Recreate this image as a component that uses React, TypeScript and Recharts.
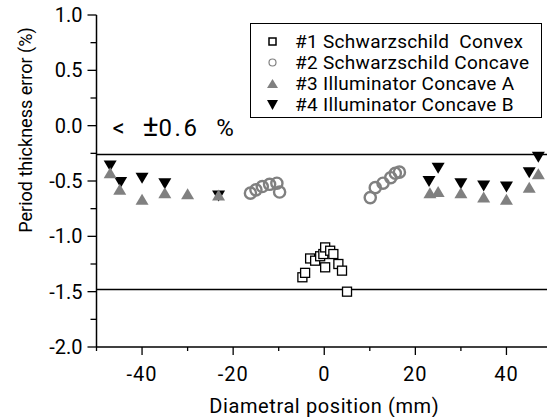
import React from "react";
import { ScatterChart, Scatter, XAxis, YAxis, ReferenceLine, Legend, Label } from "recharts";

// measured points: [diametral position (mm), period thickness error (%)]
const convexPoints = [
  [-4.8, -1.37], [-4.2, -1.33], [-3.1, -1.2], [-2.0, -1.22], [-0.9, -1.18], [-0.2, -1.16],
  [0.2, -1.1], [0.2, -1.28], [1.3, -1.13], [2.0, -1.16], [3.1, -1.25], [3.9, -1.31], [5.0, -1.5],
];
const concavePoints = [
  [-16.2, -0.61], [-15.0, -0.58], [-13.6, -0.55], [-12.0, -0.53], [-10.4, -0.52], [-9.8, -0.6],
  [10.1, -0.65], [11.2, -0.56], [12.9, -0.52], [14.6, -0.47], [15.6, -0.43], [16.5, -0.42],
];
const illumAPoints = [
  [-47, -0.43], [-44.9, -0.58], [-40, -0.67], [-35, -0.61], [-30, -0.62], [-23.2, -0.63],
  [23.2, -0.61], [25, -0.6], [30, -0.61], [35, -0.65], [40, -0.67], [45, -0.56], [47, -0.44],
];
const illumBPoints = [
  [-47, -0.36], [-44.7, -0.51], [-40, -0.47], [-35, -0.52], [-23.2, -0.63],
  [23, -0.5], [25, -0.38], [30, -0.52], [35, -0.54], [40, -0.55], [45, -0.42], [47, -0.28],
];

const seriesNames = [
  "#1 Schwarzschild  Convex",
  "#2 Schwarzschild Concave",
  "#3 Illuminator Concave A",
  "#4 Illuminator Concave B",
];

// major ticks get labels, the rest are minor
const xMajor = [-40, -20, 0, 20, 40];
const xAllTicks = [-50, -40, -30, -20, -10, 0, 10, 20, 30, 40, 50];
const yMajor = [-2, -1.5, -1, -0.5, 0, 0.5, 1];
const yAllTicks = [-2, -1.75, -1.5, -1.25, -1, -0.75, -0.5, -0.25, 0, 0.25, 0.5, 0.75, 1];
const upperLimit = -0.26;
const lowerLimit = -1.48;

const GRAY = "#808080";
const FONT = "Roboto, 'Liberation Sans', sans-serif";

const toRows = (pts: number[][]) => pts.map(([x, y]) => ({ x, y }));

const BottomTick = (p: any) => {
  const v = p.payload.value;
  const major = xMajor.includes(v);
  return (
    <g>
      <line x1={p.x} x2={p.x} y1={p.y} y2={p.y + (major ? 8 : 4)} stroke="#000" strokeWidth={1.3} />
      {major && (
        <text x={p.x} y={p.y + 34} textAnchor="middle" fontFamily={FONT} fontSize={20} letterSpacing={1} fill="#000">
          {String(v)}
        </text>
      )}
    </g>
  );
};

const LeftTick = (p: any) => {
  const v = p.payload.value;
  const major = yMajor.includes(v);
  return (
    <g>
      <line x1={p.x - (major ? 9 : 6)} x2={p.x} y1={p.y} y2={p.y} stroke="#000" strokeWidth={1.3} />
      {major && (
        <text x={p.x - 14} y={p.y} textAnchor="end" dominantBaseline="central" fontFamily={FONT} fontSize={20} fill="#000">
          {v.toFixed(1)}
        </text>
      )}
    </g>
  );
};

const TopTick = (p: any) => (
  <line x1={p.x} x2={p.x} y1={p.y} y2={p.y + 4} stroke="#000" strokeWidth={1.3} />
);

const RightTick = (p: any) => (
  <line x1={p.x - 6} x2={p.x} y1={p.y} y2={p.y} stroke="#000" strokeWidth={1.3} />
);

const SquareShape = (p: any) => (
  <rect x={p.cx - 4.5} y={p.cy - 4.5} width={9} height={9} fill="#fff" stroke="#000" strokeWidth={1.3} />
);
const CircleShape = (p: any) => (
  <circle cx={p.cx} cy={p.cy} r={5.6} fill="none" stroke={GRAY} strokeWidth={2.4} />
);
const UpShape = (p: any) => (
  <polygon points={`${p.cx - 6.5},${p.cy + 5} ${p.cx + 6.5},${p.cy + 5} ${p.cx},${p.cy - 6}`} fill={GRAY} />
);
const DownShape = (p: any) => (
  <polygon points={`${p.cx - 6.5},${p.cy - 5} ${p.cx + 6.5},${p.cy - 5} ${p.cx},${p.cy + 6}`} fill="#000" />
);

const legendIcons = [
  <rect key="a" x={3} y={3} width={7} height={7} fill="none" stroke="#000" strokeWidth={1.5} />,
  <circle key="b" cx={6.5} cy={6.5} r={3.5} fill="none" stroke={GRAY} strokeWidth={1.2} />,
  <polygon key="c" points="1,11 12,11 6.5,2" fill={GRAY} />,
  <polygon key="d" points="1,2 12,2 6.5,12" fill="#000" />,
];

function LegendBox() {
  return (
    <div
      style={{
        width: 292,
        height: 95,
        boxSizing: "border-box",
        border: "1px solid #000",
        background: "#fff",
        paddingTop: 7,
        fontFamily: FONT,
        fontSize: 19,
        letterSpacing: 0.3,
        color: "#000",
      }}
    >
      {seriesNames.map((name, i) => (
        <div key={name} style={{ display: "flex", alignItems: "center", height: 21 }}>
          <svg width={14} height={14} style={{ marginLeft: 15 }}>
            {legendIcons[i]}
          </svg>
          <span style={{ marginLeft: 15, whiteSpace: "pre", lineHeight: "21px" }}>{name}</span>
        </div>
      ))}
    </div>
  );
}

const YTitle = (props: any) => {
  const vb = props.viewBox;
  const cx = vb.x - 11;
  const cy = vb.y + vb.height / 2 - 51;
  return (
    <text
      x={cx}
      y={cy}
      transform={`rotate(-90, ${cx}, ${cy})`}
      textAnchor="middle"
      dominantBaseline="central"
      fontFamily={FONT}
      fontSize={18}
      fill="#000"
    >
      Period thickness error (%)
    </text>
  );
};

const XTitle = (props: any) => {
  const vb = props.viewBox;
  return (
    <text
      x={vb.x + vb.width / 2}
      y={vb.y + 66}
      textAnchor="middle"
      fontFamily={FONT}
      fontSize={20}
      letterSpacing={0.6}
      fill="#000"
    >
      Diametral position (mm)
    </text>
  );
};

const BandNote = (props: any) => {
  const vb = props.viewBox;
  return (
    <text x={vb.x + 16} y={vb.y - 18} fontFamily={FONT} fontSize={24} fill="#000" xmlSpace="preserve">
      {"<   "}
      <tspan fontSize={30}>±</tspan>
      <tspan letterSpacing={2.5}>{"0.6  %"}</tspan>
    </text>
  );
};

export default function App() {
  return (
    <div style={{ position: "absolute", left: 0, top: 0, width: 547, height: 417, overflow: "hidden", background: "#fff" }}>
      <ScatterChart width={562} height={417} margin={{ top: 15, right: 10, bottom: 20, left: 36.5 }}>
        <XAxis
          type="number"
          dataKey="x"
          domain={[-50, 50]}
          ticks={xAllTicks}
          interval={0}
          height={50}
          tickSize={0}
          tickMargin={0}
          tick={BottomTick}
          tickLine={false}
          axisLine={{ stroke: "#000", strokeWidth: 1.5 }}
        >
          <Label content={XTitle} />
        </XAxis>
        <XAxis
          xAxisId="top"
          orientation="top"
          type="number"
          dataKey="x"
          domain={[-50, 50]}
          ticks={xAllTicks}
          interval={0}
          height={0}
          tickSize={0}
          tickMargin={0}
          tick={TopTick}
          tickLine={false}
          axisLine={{ stroke: "#000", strokeWidth: 1.5 }}
        />
        <YAxis
          type="number"
          dataKey="y"
          domain={[-2, 1]}
          ticks={yAllTicks}
          interval={0}
          width={60}
          tickSize={0}
          tickMargin={0}
          tick={LeftTick}
          tickLine={false}
          axisLine={{ stroke: "#000", strokeWidth: 1.5 }}
        >
          <Label content={YTitle} />
        </YAxis>
        <YAxis
          yAxisId="right"
          orientation="right"
          type="number"
          dataKey="y"
          domain={[-2, 1]}
          ticks={yMajor}
          interval={0}
          width={0}
          tickSize={0}
          tickMargin={0}
          tick={RightTick}
          tickLine={false}
          axisLine={{ stroke: "#000", strokeWidth: 1.5 }}
        />
        <ReferenceLine y={upperLimit} stroke="#000" strokeWidth={1.5}>
          <Label content={BandNote} />
        </ReferenceLine>
        <ReferenceLine y={lowerLimit} stroke="#000" strokeWidth={1.5} />
        <Legend
          layout="vertical"
          align="center"
          verticalAlign="middle"
          wrapperStyle={{ left: 250, top: 23, width: 292, height: 95 }}
          content={() => <LegendBox />}
        />
        <Scatter name={seriesNames[3]} data={toRows(illumBPoints)} shape={DownShape} isAnimationActive={false} />
        <Scatter name={seriesNames[2]} data={toRows(illumAPoints)} shape={UpShape} isAnimationActive={false} />
        <Scatter name={seriesNames[1]} data={toRows(concavePoints)} shape={CircleShape} isAnimationActive={false} />
        <Scatter name={seriesNames[0]} data={toRows(convexPoints)} shape={SquareShape} isAnimationActive={false} />
      </ScatterChart>
    </div>
  );
}
